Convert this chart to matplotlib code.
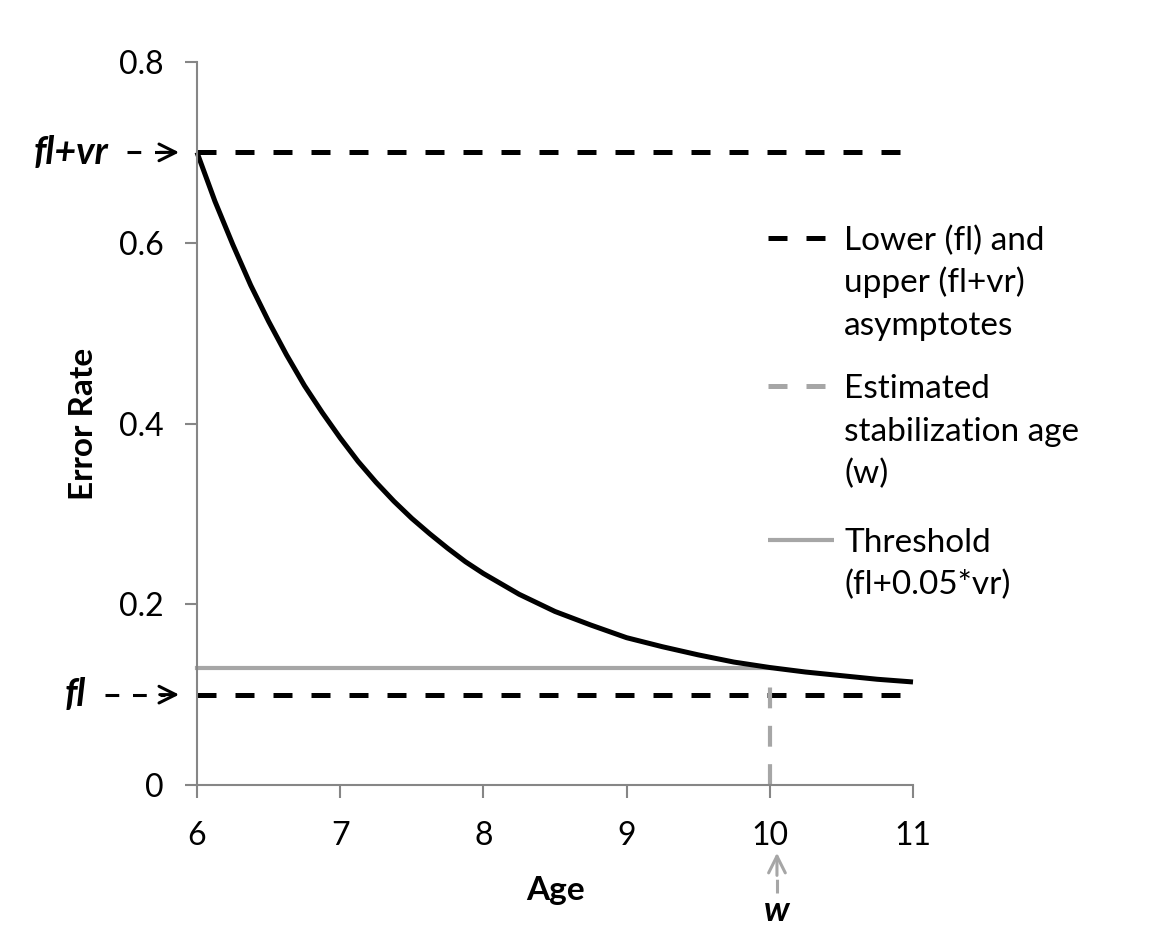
import matplotlib
matplotlib.use('Agg')
import matplotlib.pyplot as plt
from matplotlib.lines import Line2D

plt.rcParams['font.family'] = ['Lato', 'DejaVu Sans']

# error rate by age
age = [6.0, 6.125, 6.25, 6.375, 6.5, 6.625, 6.75, 6.875, 7.0, 7.125, 7.25,
       7.375, 7.5, 7.625, 7.75, 7.875, 8.0, 8.25, 8.5, 8.75, 9.0, 9.25,
       9.5, 9.75, 10.0, 10.25, 10.5, 10.75, 11.0]
err = [0.700, 0.646, 0.598, 0.553, 0.513, 0.476, 0.442, 0.412, 0.384, 0.358, 0.335,
       0.314, 0.295, 0.278, 0.262, 0.247, 0.234, 0.211, 0.192, 0.177, 0.163, 0.153,
       0.144, 0.136, 0.130, 0.125, 0.121, 0.117, 0.114]

fl = 0.1
vr = 0.6
threshold = fl + 0.05 * vr
w = 10

x_ticks = [6, 7, 8, 9, 10, 11]
y_ticks = [0, 0.2, 0.4, 0.6, 0.8]
y_tick_labels = ['0', '0.2', '0.4', '0.6', '0.8']

legend_labels = [['Lower (fl) and', 'upper (fl+vr)', 'asymptotes'],
                 ['Estimated', 'stabilization age', '(w)'],
                 ['Threshold', '(fl+0.05*vr)']]

grey = '#a6a6a6'
axis_grey = '#868686'

fig = plt.figure(figsize=(11.65, 9.41), dpi=100)
ax = fig.add_axes([197 / 1165, 1 - 785 / 941, 716 / 1165, 723 / 941])

# asymptotes
ax.plot([age[0], age[-1]], [fl + vr, fl + vr], color='black', lw=3.6,
        dashes=(3.8, 3.8), dash_capstyle='butt', clip_on=False)
ax.plot([age[0], age[-1]], [fl, fl], color='black', lw=3.6,
        dashes=(3.8, 3.8), dash_capstyle='butt', clip_on=False)
# threshold and stabilization age
ax.plot([age[0], w], [threshold, threshold], color=grey, lw=3, clip_on=False)
ax.plot([w, w], [0, threshold], color=grey, lw=3, dashes=(5, 4.2),
        dash_capstyle='butt', clip_on=False)
# curve
ax.plot(age, err, color='black', lw=3.6, solid_capstyle='butt',
        solid_joinstyle='round', clip_on=False)

ax.set_xlim(6, 11)
ax.set_ylim(0, 0.8)
ax.set_xticks(x_ticks)
ax.set_yticks(y_ticks)
ax.set_yticklabels(y_tick_labels)
for side in ['top', 'right']:
    ax.spines[side].set_visible(False)
for side in ['left', 'bottom']:
    ax.spines[side].set_color(axis_grey)
    ax.spines[side].set_linewidth(1.5)
ax.tick_params(axis='both', direction='out', length=9, width=1.5,
               color=axis_grey, labelsize=23)
ax.tick_params(axis='y', pad=15)
ax.tick_params(axis='x', pad=17)

ax.set_xlabel('Age', fontsize=24, fontweight='bold', labelpad=18)
ax.set_ylabel('Error Rate', fontsize=24, fontweight='bold', labelpad=15)


# labelled dashed arrows pointing at the asymptotes
def side_arrow(y, label, x_start):
    ax.plot([x_start, -0.045], [y, y], transform=ax.get_yaxis_transform(),
            color='black', lw=2.2, dashes=(4.5, 4.5), dash_capstyle='butt',
            clip_on=False)
    ax.annotate('', xy=(-0.025, y), xytext=(-0.052, y),
                xycoords=ax.get_yaxis_transform(),
                arrowprops=dict(arrowstyle='->', mutation_scale=30,
                                color='black', lw=2.2, shrinkA=0, shrinkB=0))
    ax.text(x_start - 0.026, y, label, transform=ax.get_yaxis_transform(),
            ha='right', va='center', fontsize=27, fontweight='bold',
            style='italic')


side_arrow(fl + vr, 'fl+vr', -0.098)
side_arrow(fl, 'fl', -0.129)

# arrow up to the stabilization age
wx = w + 0.05
ax.plot([wx, wx], [-0.12, -0.092], color=grey, lw=2.2, dashes=(4.5, 4.5),
        dash_capstyle='butt', clip_on=False)
ax.annotate('', xy=(wx, -0.075), xytext=(wx, -0.1),
            arrowprops=dict(arrowstyle='->', mutation_scale=30, color=grey,
                            lw=2.2, shrinkA=0, shrinkB=0),
            annotation_clip=False)
ax.text(wx, -0.139, 'w', ha='center', va='center', fontsize=25,
        fontweight='bold', style='italic')

# legend drawn by hand so the key sits on the first line of each label
handles = [dict(color='black', lw=3.6, dashes=(3.8, 3.8)),
           dict(color=grey, lw=3.6, dashes=(3.8, 3.8)),
           dict(color=grey, lw=3)]
first_baseline = [250, 398, 552]
line_step = 42.5
for kw, lines, yp in zip(handles, legend_labels, first_baseline):
    yk = 1 - (yp - 12) / 941
    fig.add_artist(Line2D([768 / 1165, 834 / 1165], [yk, yk],
                          solid_capstyle='butt', dash_capstyle='butt', **kw))
    for i, line in enumerate(lines):
        fig.text(844 / 1165, 1 - (yp + i * line_step) / 941, line,
                 ha='left', va='baseline', fontsize=24)

fig.savefig('out.png', dpi=100)
